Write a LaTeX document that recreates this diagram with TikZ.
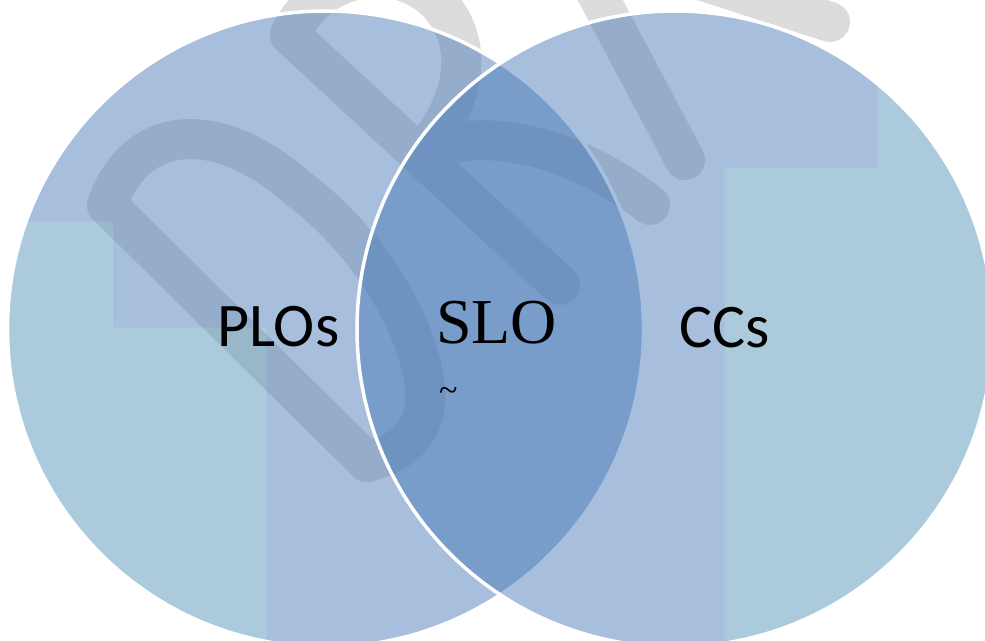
\documentclass[tikz,border=0pt]{standalone}
\usepackage{fontspec}
\newfontfamily\calibrifont{Carlito}
\newfontfamily\timesfont{Liberation Serif}
\definecolor{vblue}{HTML}{4677B7}
\definecolor{vcyan}{HTML}{4D91B5}
\definecolor{wmgray}{HTML}{DCDCDC}
\tikzset{
  wm/.style={draw=wmgray, line width=40pt, line cap=round, line join=round},
  ring/.style={draw=white, line width=3.5pt},
  sanslbl/.style={inner sep=0pt, anchor=base west, font=\calibrifont\fontsize{62}{64}\selectfont},
  seriflbl/.style={inner sep=0pt, anchor=base west, font=\timesfont\fontsize{64}{66}\selectfont}
}
\begin{document}
\begin{tikzpicture}[x=1pt,y=-1pt]
\useasboundingbox (0,0) rectangle (985,640);
\fill[white] (0,0) rectangle (985,640);
\coordinate (cl) at (325.5,329);
\coordinate (cr) at (675,329);
% watermark (under the circles)
\begin{scope}
\clip (0,0) rectangle (985,640);
% letter D
\draw[wm] (107,205) -- (367,462);
\draw[wm] (107,205) .. controls (135,125) and (215,115) .. (300,190)
  .. controls (380,250) and (430,350) .. (425,405)
  .. controls (420,440) and (395,455) .. (367,462);
% letter R
\draw[wm] (290,35) -- (560,285);
\draw[wm] (290,35) .. controls (320,-30) and (400,-40) .. (440,5)
  .. controls (475,45) and (465,100) .. (425,150);
\draw[wm] (430,150) .. controls (490,125) and (580,150) .. (650,205);
% letter A
\draw[wm] (579,-40) -- (685,160);
\draw[wm] (700,-20) -- (830,22);
\end{scope}
% left circle
\begin{scope}
\clip (cl) circle[radius=318pt];
\fill[vblue, opacity=0.47, even odd rule] (-20,-20) rectangle (1005,660)
  (-20,221) -- (114,221) -- (114,327) -- (267,327) -- (267,660) -- (-20,660) -- cycle;
\fill[vcyan, opacity=0.47] (-20,221) -- (114,221) -- (114,327) -- (267,327) -- (267,660) -- (-20,660) -- cycle;
\end{scope}
\draw[ring] (cl) circle[radius=318pt];
% right circle
\begin{scope}
\clip (cr) circle[radius=318pt];
\fill[vblue, opacity=0.47, even odd rule] (-20,-20) rectangle (1005,660)
  (877,-20) -- (1005,-20) -- (1005,660) -- (724,660) -- (724,167) -- (877,167) -- cycle;
\fill[vcyan, opacity=0.47] (877,-20) -- (1005,-20) -- (1005,660) -- (724,660) -- (724,167) -- (877,167) -- cycle;
\end{scope}
\draw[ring] (cr) circle[radius=318pt];
% labels
\node[sanslbl] (plos) at (217,346) {PLOs};
\node[sanslbl] (ccs) at (679,347) {CCs};
\node[seriflbl] (slo) at (436,343) {SLO};
\node[inner sep=0pt, anchor=base west, font=\timesfont\fontsize{34}{36}\selectfont] (tld) at (439,401) {\textasciitilde};
\end{tikzpicture}
\end{document}
